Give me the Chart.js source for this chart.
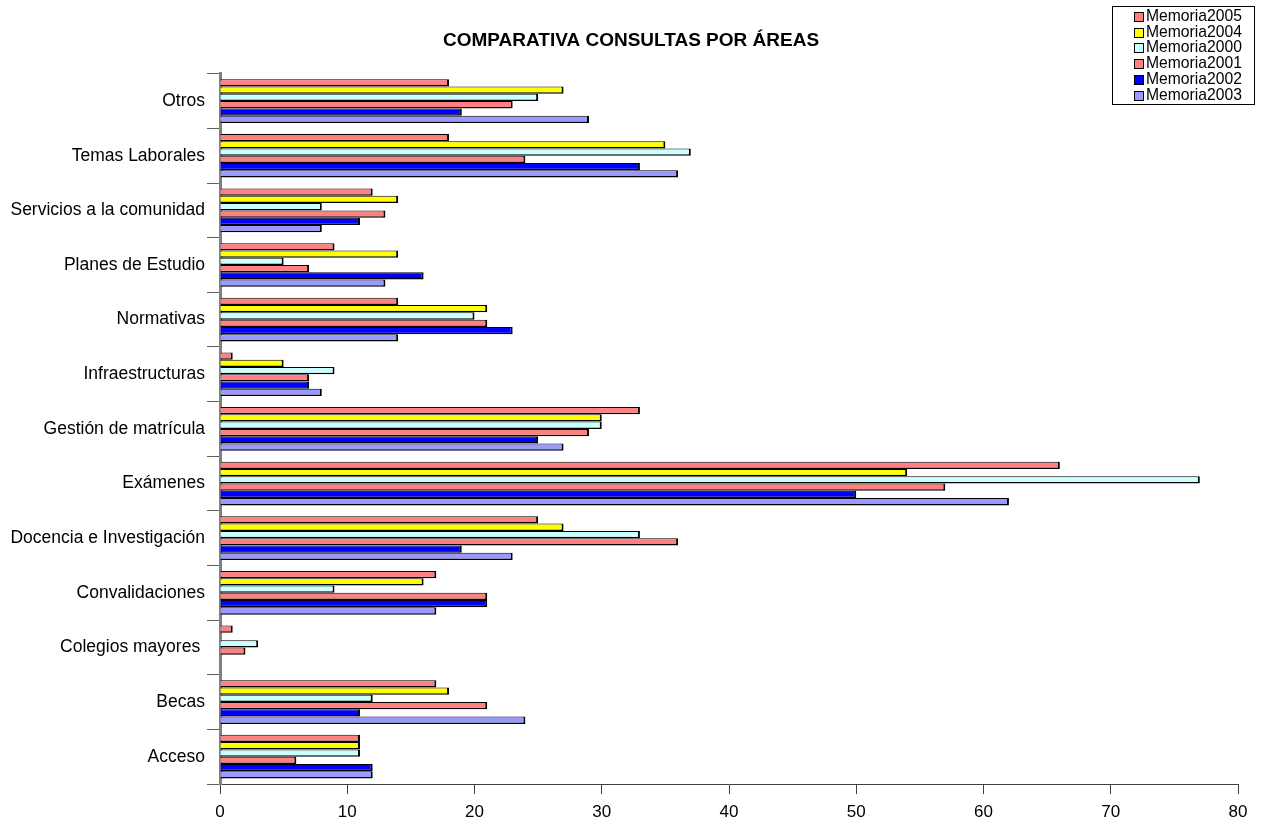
<!DOCTYPE html>
<html>
<head>
<meta charset="utf-8">
<title>Comparativa consultas por áreas</title>
<script src="https://cdn.jsdelivr.net/npm/chart.js@4/dist/chart.umd.min.js"></script>
<style>
  html, body { margin: 0; padding: 0; background: #fff; }
  #grafico { display: block; }
</style>
</head>
<body>
<canvas id="grafico" width="1262" height="825" style="width:1262px;height:825px"></canvas>
<script>
// Áreas de arriba a abajo
const categorias = ['Otros', 'Temas Laborales', 'Servicios a la comunidad', 'Planes de Estudio',
  'Normativas', 'Infraestructuras', 'Gestión de matrícula', 'Exámenes',
  'Docencia e Investigación', 'Convalidaciones', 'Colegios mayores ', 'Becas', 'Acceso'];

// Consultas por memoria anual
const memoria2005 = [18, 18, 12, 9, 14, 1, 33, 66, 25, 17, 1, 17, 11];
const memoria2004 = [27, 35, 14, 14, 21, 5, 30, 54, 27, 16, 0, 18, 11];
const memoria2000 = [25, 37, 8, 5, 20, 9, 30, 77, 33, 9, 3, 12, 11];
const memoria2001 = [23, 24, 13, 7, 21, 7, 29, 57, 36, 21, 2, 21, 6];
const memoria2002 = [19, 33, 11, 16, 23, 7, 25, 50, 19, 21, 0, 11, 12];
const memoria2003 = [29, 36, 8, 13, 14, 8, 27, 62, 23, 17, 0, 24, 12];

const ticksX = [0, 10, 20, 30, 40, 50, 60, 70, 80];

const fuente = '"Liberation Sans", Arial, sans-serif';

function serie(label, data, color) {
  return {
    label: label,
    data: data,
    backgroundColor: color,
    borderColor: '#000',
    borderWidth: { top: 1, right: 2, bottom: 1.5, left: 0 },
    borderSkipped: 'start',
    categoryPercentage: 0.8,
    barPercentage: 1.0
  };
}

// Leyenda en recuadro arriba a la derecha
const leyendaCaja = {
  id: 'leyendaCaja',
  afterLayout(chart) {
    // el título se centra sobre todo el lienzo, no sobre el área sin margen derecho
    if (chart.titleBlock) chart.titleBlock.left = 24;
  },
  afterDraw(chart) {
    const ctx = chart.ctx;
    ctx.save();
    ctx.strokeStyle = '#000';
    ctx.lineWidth = 1;
    ctx.strokeRect(1112.5, 6.5, 142, 98);
    ctx.font = '15.7px ' + fuente;
    ctx.textBaseline = 'middle';
    chart.data.datasets.forEach((ds, i) => {
      const y = Math.round(15.7 + i * 15.8);
      ctx.fillStyle = ds.backgroundColor;
      ctx.fillRect(1134, y - 4, 9, 9);
      ctx.strokeRect(1134.5, y - 3.5, 9, 9);
      ctx.fillStyle = '#000';
      ctx.fillText(ds.label, 1146, y + 1);
    });
    ctx.restore();
  }
};

const ctx = document.getElementById('grafico').getContext('2d');
new Chart(ctx, {
  type: 'bar',
  data: {
    labels: categorias,
    datasets: [
      serie('Memoria2005', memoria2005, '#FF8080'),
      serie('Memoria2004', memoria2004, '#FFFF00'),
      serie('Memoria2000', memoria2000, '#CCFFFF'),
      serie('Memoria2001', memoria2001, '#FF8080'),
      serie('Memoria2002', memoria2002, '#0000FF'),
      serie('Memoria2003', memoria2003, '#9999FF')
    ]
  },
  options: {
    indexAxis: 'y',
    responsive: false,
    animation: false,
    devicePixelRatio: 1,
    layout: { padding: { top: 0, left: 0, right: 24, bottom: 0 } },
    plugins: {
      legend: { display: false },
      tooltip: { enabled: false },
      title: {
        display: true,
        text: 'COMPARATIVA CONSULTAS POR ÁREAS',
        color: '#000',
        font: { family: fuente, size: 19, weight: 'bold' },
        padding: { top: 29, bottom: 22 }
      }
    },
    scales: {
      x: {
        min: 0,
        max: 80,
        afterFit: (scale) => { scale.height = 41; },
        afterBuildTicks: (scale) => { scale.ticks = ticksX.map(v => ({ value: v })); },
        ticks: { color: '#000', font: { family: fuente, size: 17 }, padding: 8 },
        grid: { drawOnChartArea: false, tickLength: 10, color: '#404040' },
        border: { color: '#404040', width: 1 }
      },
      y: {
        afterFit: (scale) => { scale.width = 220; },
        ticks: { color: '#000', font: { family: fuente, size: 17.5 }, padding: 2 },
        grid: { offset: true, drawOnChartArea: false, tickLength: 13, color: '#606060' },
        border: { color: '#808080', width: 3 }
      }
    }
  },
  plugins: [leyendaCaja]
});
</script>
</body>
</html>
